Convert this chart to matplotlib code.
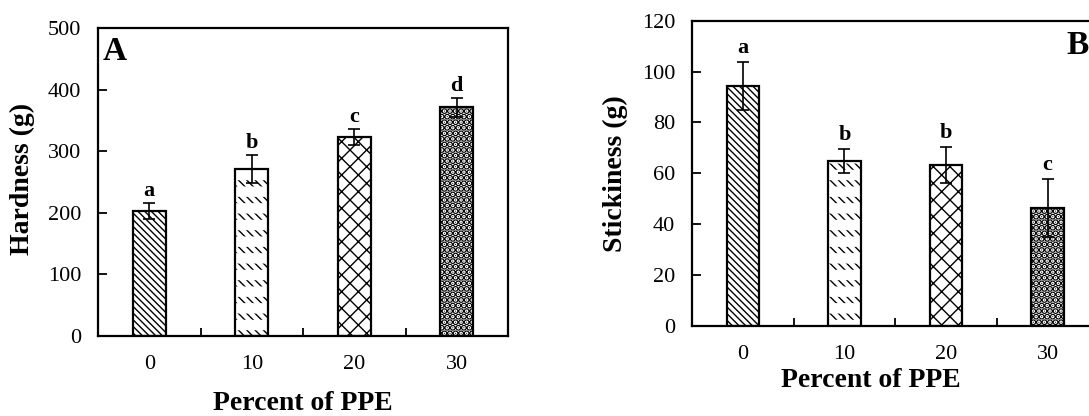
import numpy as np
import matplotlib.pyplot as plt

plt.rcParams['font.family'] = ['Liberation Serif', 'DejaVu Serif']
plt.rcParams['hatch.linewidth'] = 1.0

ppe = ['0', '10', '20', '30']
hard = [203, 271, 323, 371]
hard_err = [13, 23, 13, 15]
hard_grp = ['a', 'b', 'c', 'd']
stick = [94.3, 64.8, 63.2, 46.2]
stick_err = [9.3, 4.6, 7.2, 11.4]
stick_grp = ['a', 'b', 'b', 'c']

hatches = ['\\' * 5, '\\' * 4, 'xx', '...']
w = 0.32


def draw_panel(ax, vals, errs, grps, ymax, ystep, off):
    x = np.arange(len(vals))
    for i in range(len(vals)):
        b = ax.bar(x[i], vals[i], w, color='white', edgecolor='black',
                   hatch=hatches[i], linewidth=0, zorder=2)
        if i == 3:
            for p in b:
                if hasattr(p, 'set_hatch_linewidth'):
                    p.set_hatch_linewidth(3.3)
        if i == 1:
            # break the diagonal lines into short dashes
            b = ax.bar(x[i], vals[i], w, color='none', edgecolor='white',
                       hatch='-', linewidth=0, zorder=2.5)
            for p in b:
                if hasattr(p, 'set_hatch_linewidth'):
                    p.set_hatch_linewidth(7.5)
        ax.bar(x[i], vals[i], w, color='none', edgecolor='black',
               linewidth=1.6, zorder=3)
    ax.errorbar(x, vals, yerr=errs, fmt='none', ecolor='black',
                elinewidth=1.2, capsize=4, capthick=1.2, zorder=4)
    for i in range(len(vals)):
        ax.text(x[i], vals[i] + errs[i] + off, grps[i], ha='center',
                va='baseline', fontsize=16, fontweight='bold')
    ax.set_ylim(0, ymax)
    ax.set_yticks(np.arange(0, ymax + 1, ystep))
    ax.set_xticks(x)
    ax.set_xticklabels(ppe)
    ax.set_xticks(x[:-1] + 0.5, minor=True)
    ax.tick_params(axis='y', direction='in', length=6.5, width=1.3,
                   labelsize=16, pad=12)
    ax.tick_params(axis='x', which='major', length=0, labelsize=16, pad=14)
    ax.tick_params(axis='x', which='minor', direction='in', length=6, width=1.3)
    for s in ax.spines.values():
        s.set_linewidth(1.6)


fig = plt.figure(figsize=(10.89, 4.16), dpi=100)

ax1 = fig.add_axes([98 / 1089, 80 / 416, 410 / 1089, 308 / 416])
draw_panel(ax1, hard, hard_err, hard_grp, 500, 100, 11)
ax1.set_xlim(-0.5, 3.5)
ax1.set_ylabel('Hardness (g)', fontsize=20, fontweight='bold')
ax1.yaxis.set_label_coords(-0.154, 0.51)
ax1.set_xlabel('Percent of PPE', fontsize=20, fontweight='bold')
ax1.xaxis.set_label_coords(0.5, -0.18)
ax1.text(0.012, 0.975, 'A', transform=ax1.transAxes, fontsize=24,
         fontweight='bold', va='top', ha='left')

ax2 = fig.add_axes([692 / 1089, 90.3 / 416, 447 / 1089, 305 / 416])
draw_panel(ax2, stick, stick_err, stick_grp, 120, 20, 3.5)
ax2.set_xlim(-0.5, 3.9)
ax2.set_ylabel('Stickiness (g)', fontsize=20, fontweight='bold')
ax2.yaxis.set_label_coords(-0.143, 0.5)
ax2.set_xlabel('Percent of PPE', fontsize=20, fontweight='bold')
ax2.xaxis.set_label_coords(0.40, -0.14)
ax2.text(3.19, 116.5, 'B', fontsize=24, fontweight='bold', va='top', ha='left')

fig.savefig('out.png', dpi=100)
